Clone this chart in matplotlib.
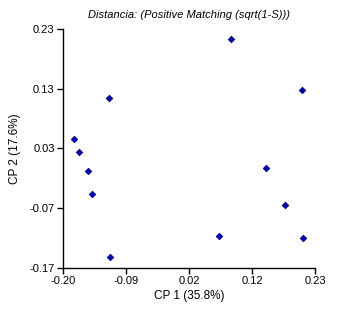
import numpy as np
import matplotlib
matplotlib.use("Agg")
import matplotlib.pyplot as plt

plt.rcParams["font.family"] = ["Liberation Sans", "DejaVu Sans"]

# scores on the first two principal coordinates
cp1 = [0.086, 0.207, -0.122, -0.182, -0.173, -0.157, -0.151, 0.146, 0.179, 0.066, 0.209, -0.119]
cp2 = [0.214, 0.128, 0.114, 0.046, 0.024, -0.007, -0.046, -0.003, -0.064, -0.116, -0.119, -0.151]

x_ticks = np.linspace(-0.20, 0.23, 5)
x_labels = ["-0.20", "-0.09", "0.02", "0.12", "0.23"]
y_ticks = np.linspace(-0.17, 0.23, 5)
y_labels = ["-0.17", "-0.07", "0.03", "0.13", "0.23"]

fig = plt.figure(figsize=(3.54, 3.10), dpi=100)
ax = fig.add_axes([63 / 354, 1 - 268 / 310, 252 / 354, 239 / 310])

ax.plot(cp1, cp2, linestyle="none", marker="D", markersize=3.3,
        color="#0000b0", markeredgecolor="#000080", markeredgewidth=0.6)

ax.set_xlim(-0.20, 0.23)
ax.set_ylim(-0.17, 0.23)
ax.set_xticks(x_ticks)
ax.set_xticklabels(x_labels)
ax.set_yticks(y_ticks)
ax.set_yticklabels(y_labels)
ax.tick_params(direction="out", length=4, width=1, labelsize=8, pad=2)

for side in ["top", "right"]:
    ax.spines[side].set_visible(False)
for side in ["left", "bottom"]:
    ax.spines[side].set_linewidth(1)

ax.set_xlabel("CP 1 (35.8%)", fontsize=8.5, labelpad=3)
ax.set_ylabel("CP 2 (17.6%)", fontsize=8.5, labelpad=6)
ax.set_title("Distancia: (Positive Matching (sqrt(1-S)))", fontsize=8,
             style="italic", pad=8)

fig.savefig("out.png", dpi=100)
